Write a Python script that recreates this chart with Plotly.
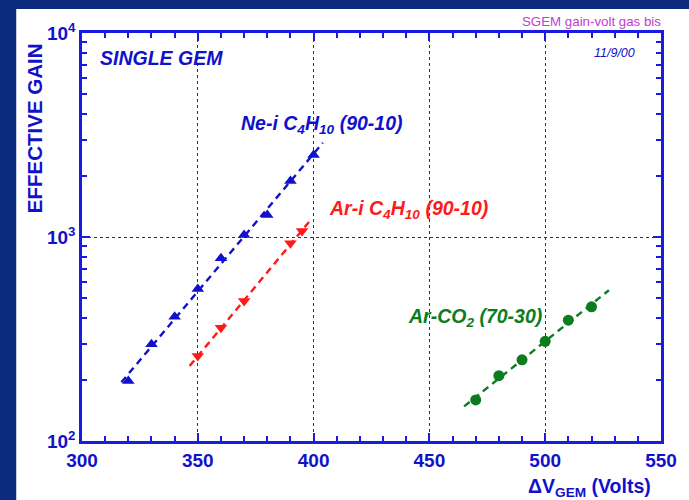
import numpy as np
import plotly.graph_objects as go

# ---- data ----
ne_volts = [320, 330, 340, 350, 360, 370, 380, 390, 400]
ne_gain = [197, 298, 406, 556, 787, 1023, 1283, 1883, 2525]
ne_fit_range = [317, 404]

ar_volts = [350, 360, 370, 390, 395]
ar_gain = [261, 359, 485, 931, 1070]
ar_fit_range = [346.5, 399]

co2_volts = [470, 480, 490, 500, 510, 520]
co2_gain = [159, 209, 250, 308, 391, 455]
co2_fit_range = [465, 527.5]

x_ticks = [300, 350, 400, 450, 500, 550]
y_tickvals = [100, 1000, 10000]
y_ticktext = ["10<sup>2</sup>", "10<sup>3</sup>", "10<sup>4</sup>"]
y_minor = [200, 300, 400, 500, 600, 700, 800, 900,
           2000, 3000, 4000, 5000, 6000, 7000, 8000, 9000]

BLUE = "#1111cc"
AXBLUE = "#1a1ae0"
RED = "#ff1a1a"
GREEN = "#0b7d1e"
FONT = "Liberation Sans, Arial, sans-serif"


def fit_line(xs, ys, rng):
    p = np.polyfit(xs, np.log10(ys), 1)
    fx = np.array(rng)
    return fx, 10 ** np.polyval(p, fx)


fig = go.Figure()

for xs, ys, rng, col, sym, msize in [
    (ne_volts, ne_gain, ne_fit_range, BLUE, "triangle-up", 11),
    (ar_volts, ar_gain, ar_fit_range, RED, "triangle-down", 11),
    (co2_volts, co2_gain, co2_fit_range, GREEN, "circle", 11),
]:
    fx, fy = fit_line(xs, ys, rng)
    fig.add_trace(go.Scatter(x=xs, y=ys, mode="markers",
                             marker=dict(color=col, symbol=sym, size=msize),
                             showlegend=False))
    fig.add_trace(go.Scatter(x=fx, y=fy, mode="lines",
                             line=dict(color=col, width=2.4, dash="7px,5px"),
                             hoverinfo="skip", showlegend=False))

# white slide panel behind the plot
fig.add_shape(type="rect", xref="paper", yref="paper",
              x0=(16 - 82) / 581, x1=1.2, y0=-0.3, y1=(441 - 9) / 408,
              fillcolor="white", line=dict(width=0), layer="below")

tickfont = dict(family=FONT, size=19, color=BLUE, weight="bold")

fig.update_xaxes(range=[300, 550], tickvals=x_ticks, ticks="inside", ticklen=8,
                 tickcolor=AXBLUE, tickwidth=1.5,
                 showline=True, linecolor=AXBLUE, linewidth=2.5, mirror="allticks",
                 showgrid=True, gridcolor="#333333", griddash="dot", gridwidth=1,
                 zeroline=False, tickfont=tickfont,
                 minor=dict(ticks="inside", dtick=10, ticklen=5,
                            tickcolor=AXBLUE, tickwidth=1.5, showgrid=False))
fig.update_yaxes(type="log", range=[2, 4], tickvals=y_tickvals, ticktext=y_ticktext,
                 ticks="inside", ticklen=8, tickcolor=AXBLUE, tickwidth=1.5,
                 showline=True, linecolor=AXBLUE, linewidth=2.5, mirror="allticks",
                 showgrid=True, gridcolor="#333333", griddash="dot", gridwidth=1,
                 zeroline=False, tickfont=tickfont,
                 minor=dict(ticks="inside", tickvals=y_minor, ticklen=5,
                            tickcolor=AXBLUE, tickwidth=1.5, showgrid=False))

bi = dict(family=FONT, size=19.5, weight="bold", style="italic")

ann = [
    dict(x=306.7, y=3.877, text="SINGLE GEM", xanchor="left", yanchor="middle",
         font=dict(bi, color=BLUE)),
    dict(x=539.7, y=3.904, text="11/9/00", xanchor="right", yanchor="middle",
         font=dict(family=FONT, size=12.5, style="italic", color=BLUE)),
    dict(x=368, y=3.55, text="Ne-i C<sub>4</sub>H<sub>10</sub> (90-10)",
         xanchor="left", yanchor="middle", font=dict(bi, color=BLUE)),
    dict(x=405.7, y=3.135, text="Ar-i C<sub>4</sub>H<sub>10</sub> (90-10)",
         xanchor="left", yanchor="middle", font=dict(bi, color=RED)),
    dict(x=440.1, y=2.605, text="Ar-CO<sub>2</sub> (70-30)",
         xanchor="left", yanchor="middle", font=dict(bi, color=GREEN)),
]
for a in ann:
    fig.add_annotation(xref="x", yref="y", showarrow=False, **a)

fig.add_annotation(xref="paper", yref="paper", x=(665 - 82) / 581,
                   y=(441 - 21.7) / 408, text="SGEM gain-volt gas bis",
                   xanchor="right", yanchor="middle", showarrow=False,
                   font=dict(family=FONT, size=13.3, color="#c03cd0"))
fig.add_annotation(xref="paper", yref="paper", x=(35 - 82) / 581,
                   y=(441 - 128) / 408, text="EFFECTIVE GAIN", textangle=-90,
                   xanchor="center", yanchor="middle", showarrow=False,
                   font=dict(family=FONT, size=20.5, color=BLUE, weight="bold"))
fig.add_annotation(xref="paper", yref="paper", x=(655 - 82) / 581,
                   y=(441 - 487) / 408, text="ΔV<sub>GEM</sub> (Volts)",
                   xanchor="right", yanchor="middle", showarrow=False,
                   font=dict(family=FONT, size=19.5, color=BLUE, weight="bold"))

fig.update_layout(width=689, height=500,
                  margin=dict(l=82, r=26, t=33, b=59),
                  paper_bgcolor="#0d2b7e", plot_bgcolor="white",
                  showlegend=False)

fig.write_html("out.html")
